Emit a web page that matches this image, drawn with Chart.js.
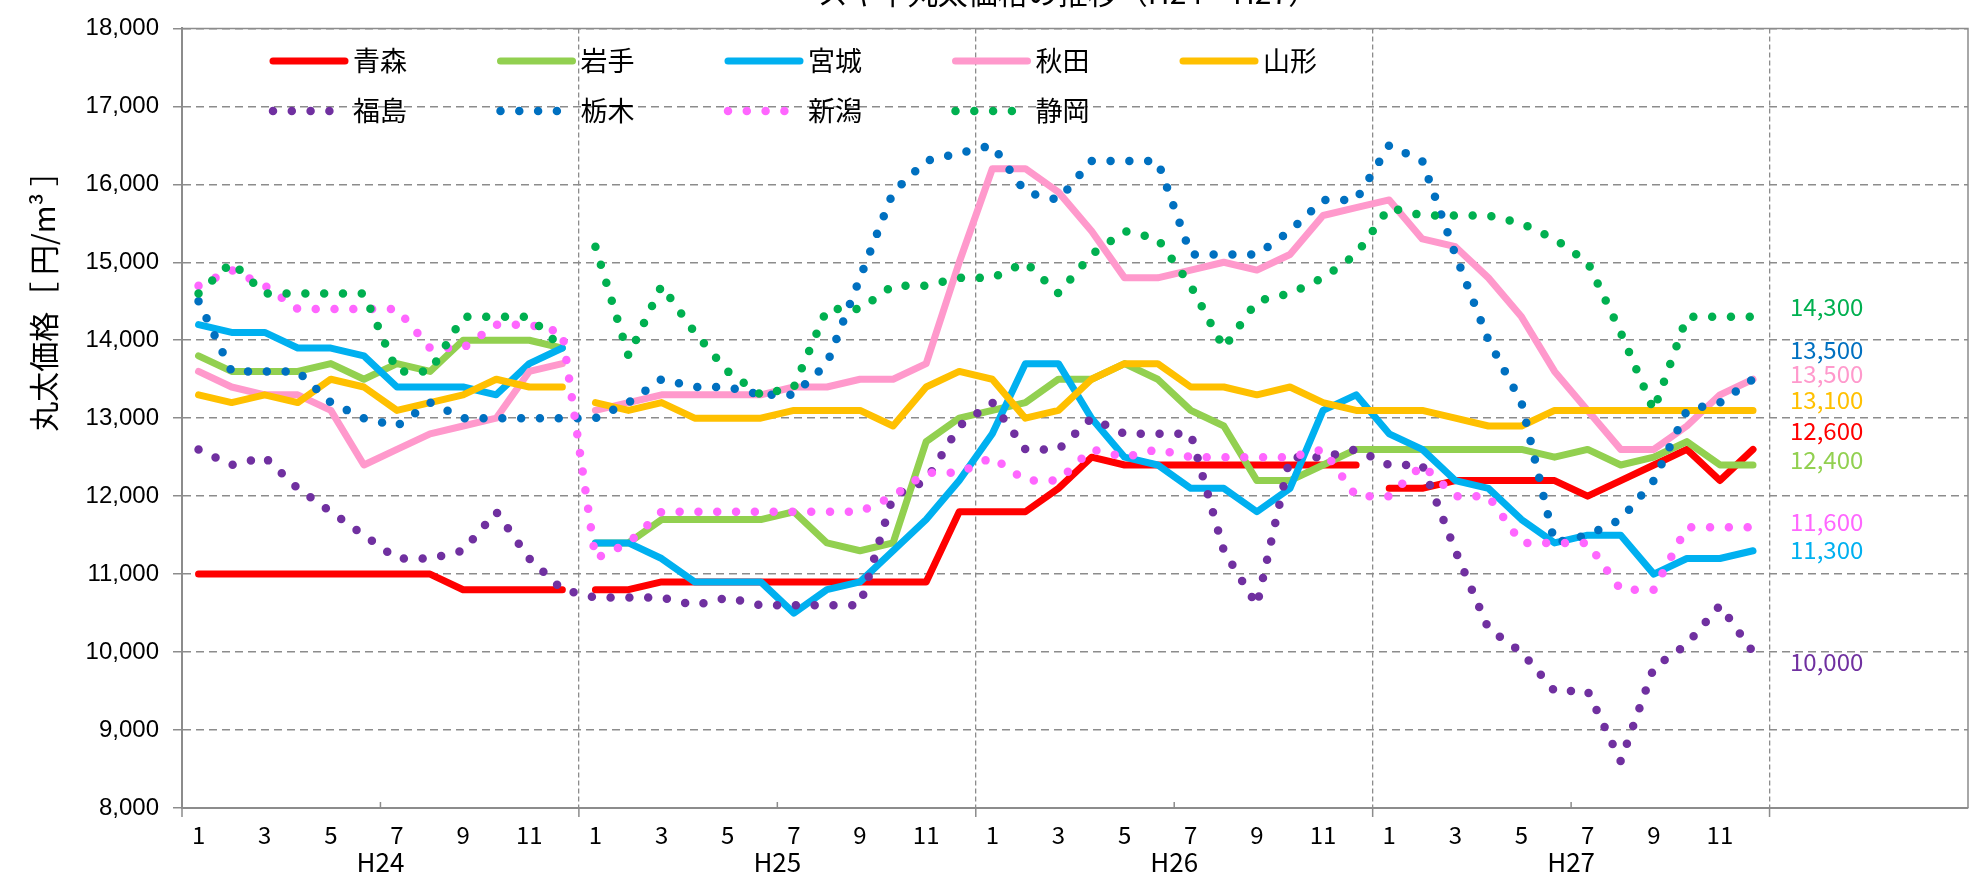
<!DOCTYPE html>
<html>
<head>
<meta charset="utf-8">
<script src="https://cdn.jsdelivr.net/npm/chart.js@4.4.1/dist/chart.umd.min.js"></script>
<style>
  html, body { margin: 0; padding: 0; background: #fff; }
</style>
</head>
<body>
<canvas id="chart" width="1977" height="879"></canvas>
<script>
const chartTitle = 'スギ中丸太価格の推移（H24～H27）';
const yTitle = '丸太価格［ 円/m³ ］';

const years = ['H24', 'H25', 'H26', 'H27'];
const months = [1, 2, 3, 4, 5, 6, 7, 8, 9, 10, 11, 12];
const spareSlots = 6;   // empty months on the right, where the end values sit

const names = ['青森', '岩手', '宮城', '秋田', '山形', '福島', '栃木', '新潟', '静岡'];

// yen per m3, H24-1 .. H27-12
const aomori = [
  11000, 11000, 11000, 11000, 11000, 11000, 11000, 11000, 10800, 10800, 10800, 10800,
  10800, 10800, 10900, 10900, 10900, 10900, 10900, 10900, 10900, 10900, 10900, 11800,
  11800, 11800, 12100, 12500, 12400, 12400, 12400, 12400, 12400, 12400, 12400, 12400,
  12100, 12100, 12200, 12200, 12200, 12200, 12000, 12200, 12400, 12600, 12200, 12600];
const iwate = [
  13800, 13600, 13600, 13600, 13700, 13500, 13700, 13600, 14000, 14000, 14000, 13900,
  11400, 11400, 11700, 11700, 11700, 11700, 11800, 11400, 11300, 11400, 12700, 13000,
  13100, 13200, 13500, 13500, 13700, 13500, 13100, 12900, 12200, 12200, 12400, 12600,
  12600, 12600, 12600, 12600, 12600, 12500, 12600, 12400, 12500, 12700, 12400, 12400];
const miyagi = [
  14200, 14100, 14100, 13900, 13900, 13800, 13400, 13400, 13400, 13300, 13700, 13900,
  11400, 11400, 11200, 10900, 10900, 10900, 10500, 10800, 10900, 11300, 11700, 12200,
  12800, 13700, 13700, 13000, 12500, 12400, 12100, 12100, 11800, 12100, 13100, 13300,
  12800, 12600, 12200, 12100, 11700, 11400, 11500, 11500, 11000, 11200, 11200, 11300];
const akita = [
  13600, 13400, 13300, 13300, 13100, 12400, 12600, 12800, 12900, 13000, 13600, 13700,
  13100, 13200, 13300, 13300, 13300, 13300, 13400, 13400, 13500, 13500, 13700, 15000,
  16200, 16200, 15900, 15400, 14800, 14800, 14900, 15000, 14900, 15100, 15600, 15700,
  15800, 15300, 15200, 14800, 14300, 13600, 13100, 12600, 12600, 12900, 13300, 13500];
const yamagata = [
  13300, 13200, 13300, 13200, 13500, 13400, 13100, 13200, 13300, 13500, 13400, 13400,
  13200, 13100, 13200, 13000, 13000, 13000, 13100, 13100, 13100, 12900, 13400, 13600,
  13500, 13000, 13100, 13500, 13700, 13700, 13400, 13400, 13300, 13400, 13200, 13100,
  13100, 13100, 13000, 12900, 12900, 13100, 13100, 13100, 13100, 13100, 13100, 13100];
const fukushima = [
  12600, 12400, 12500, 12100, 11800, 11500, 11200, 11200, 11300, 11800, 11200, 10800,
  10700, 10700, 10700, 10600, 10700, 10600, 10600, 10600, 10600, 12000, 12200, 12900,
  13200, 12600, 12600, 13000, 12800, 12800, 12800, 11300, 10600, 12500, 12500, 12600,
  12400, 12400, 11300, 10300, 10000, 9500, 9500, 8600, 9800, 10100, 10600, 10000];
const tochigi = [
  14500, 13600, 13600, 13600, 13200, 13000, 12900, 13200, 13000, 13000, 13000, 13000,
  13000, 13200, 13500, 13400, 13400, 13300, 13300, 13700, 14800, 15900, 16300, 16400,
  16500, 15900, 15800, 16300, 16300, 16300, 15100, 15100, 15100, 15400, 15800, 15800,
  16500, 16300, 15100, 14000, 13200, 11400, 11500, 11700, 12200, 13100, 13200, 13500];
const niigata = [
  14700, 14900, 14700, 14400, 14400, 14400, 14400, 13900, 13900, 14200, 14200, 14100,
  11200, 11400, 11800, 11800, 11800, 11800, 11800, 11800, 11800, 12000, 12300, 12300,
  12500, 12200, 12200, 12600, 12500, 12600, 12500, 12500, 12500, 12500, 12600, 12000,
  12000, 12400, 12000, 12000, 11400, 11400, 11400, 10800, 10800, 11600, 11600, 11600];
const shizuoka = [
  14600, 15000, 14600, 14600, 14600, 14600, 13600, 13600, 14300, 14300, 14300, 13900,
  15200, 13800, 14700, 14100, 13600, 13300, 13400, 14400, 14400, 14700, 14700, 14800,
  14800, 15000, 14600, 15100, 15400, 15300, 14700, 13900, 14500, 14600, 14800, 15100,
  15700, 15600, 15600, 15600, 15500, 15300, 15000, 14100, 13100, 14300, 14300, 14300];

const values = [aomori, iwate, miyagi, akita, yamagata, fukushima, tochigi, niigata, shizuoka];

const colors = ['#FF0000', '#92D050', '#00B0F0', '#FF99CC', '#FFC000', '#7030A0', '#0070C0', '#FF66FF', '#00B050'];
const dotted = [false, false, false, false, false, true, true, true, true];
// the line is not drawn between these points and the next one
const gapsAfter = [[11, 35], [11], [11], [11], [11], [], [], [], [11]];
// end labels are pushed up/down a little so they don't overlap
const labelNudge = [-19, -5, -1, -5, -11, 10, -29, -5, -10];

const labels = years.flatMap(y => months.map(m => y + '-' + m)).concat(Array(spareSlots).fill(''));

const JP = '"Noto Sans CJK JP", "Noto Sans", sans-serif';
const GRID = '#8c8c8c';
const DOT = [0, 18.8];

const datasets = names.map((name, i) => ({
  label: name,
  data: values[i],
  borderColor: colors[i],
  backgroundColor: colors[i],
  borderWidth: dotted[i] ? 8.5 : 7,
  borderDash: dotted[i] ? DOT : [],
  borderCapStyle: 'round',
  borderJoinStyle: 'round',
  pointRadius: 0,
  pointHoverRadius: 0,
  tension: 0,
  order: names.length - i,
  segment: {
    borderColor: c => gapsAfter[i].includes(c.p0DataIndex) ? 'rgba(0,0,0,0)' : undefined
  }
}));

const decor = {
  id: 'decor',
  beforeDatasetsDraw(chart) {
    const {ctx, chartArea: a, scales: {x}} = chart;
    const w = (a.right - a.left) / labels.length;
    ctx.save();
    ctx.strokeStyle = GRID;
    ctx.lineWidth = 1.5;
    ctx.beginPath();
    ctx.moveTo(a.left, a.top);
    ctx.lineTo(a.right, a.top);
    ctx.lineTo(a.right, a.bottom);
    ctx.stroke();

    ctx.beginPath();
    for (let k = 0; k <= years.length; k++) {
      const xs = x.getPixelForValue(k * 12) - w / 2;
      ctx.moveTo(xs, a.bottom);
      ctx.lineTo(xs, a.bottom + 9);
    }
    for (let k = 0; k < years.length; k++) {
      const xm = x.getPixelForValue(k * 12 + 5) + w / 2;
      ctx.moveTo(xm, a.bottom);
      ctx.lineTo(xm, a.bottom - 6);
    }
    ctx.stroke();
    ctx.restore();
  },
  afterDraw(chart) {
    const {ctx, chartArea: a, scales: {x, y}} = chart;
    const w = (a.right - a.left) / labels.length;
    ctx.save();

    // year labels under the months
    ctx.fillStyle = '#000';
    ctx.font = '26px ' + JP;
    ctx.textAlign = 'center';
    ctx.textBaseline = 'middle';
    years.forEach((yr, k) => {
      ctx.fillText(yr, x.getPixelForValue(k * 12 + 5) + w / 2, 862);
    });

    // y axis title
    ctx.save();
    ctx.translate(44, 294);
    ctx.rotate(-Math.PI / 2);
    ctx.font = '30px ' + JP;
    ctx.fillText(yTitle, 0, 0);
    ctx.restore();

    // chart title, mostly cut off by the top edge
    ctx.font = '30px ' + JP;
    ctx.textBaseline = 'ideographic';
    ctx.fillText(chartTitle, 1068, 8);

    // legend
    ctx.textAlign = 'left';
    ctx.textBaseline = 'middle';
    ctx.font = '27px ' + JP;
    names.forEach((name, i) => {
      const col = i < 5 ? i : i - 5;
      const lx = 273 + col * 227.5;
      const ly = i < 5 ? 61 : 111;
      ctx.save();
      ctx.strokeStyle = colors[i];
      ctx.lineWidth = dotted[i] ? 8.5 : 7;
      ctx.lineCap = 'round';
      ctx.setLineDash(dotted[i] ? DOT : []);
      ctx.beginPath();
      ctx.moveTo(lx, ly);
      ctx.lineTo(lx + 72, ly);
      ctx.stroke();
      ctx.restore();
      ctx.fillStyle = '#000';
      ctx.fillText(name, lx + 80, ly);
    });

    // last values on the right
    ctx.font = '24px ' + JP;
    values.forEach((vals, i) => {
      const last = vals[vals.length - 1];
      ctx.fillStyle = colors[i];
      ctx.fillText(last.toLocaleString('en-US'), 1790, y.getPixelForValue(last) + labelNudge[i]);
    });
    ctx.restore();
  }
};

new Chart(document.getElementById('chart'), {
  type: 'line',
  data: { labels: labels, datasets: datasets },
  options: {
    responsive: false,
    animation: false,
    devicePixelRatio: 1,
    layout: { padding: { left: 0, right: 9, top: 18, bottom: 0 } },
    plugins: {
      legend: { display: false },
      title: { display: false },
      tooltip: { enabled: false }
    },
    scales: {
      x: {
        offset: true,
        afterFit: s => { s.height = 71; },
        grid: {
          offset: true,
          drawTicks: false,
          lineWidth: 1.3,
          color: c => (c.index % 12 === 0 && c.index > 0 && c.index < labels.length) ? GRID : 'rgba(0,0,0,0)'
        },
        border: { display: true, color: GRID, width: 2, dash: [5, 3] },
        ticks: {
          autoSkip: false,
          maxRotation: 0,
          minRotation: 0,
          padding: 12,
          color: '#000',
          font: { family: JP, size: 24 },
          callback: (v, i) => {
            if (i >= years.length * 12) return '';
            const m = months[i % 12];
            return m % 2 === 1 ? String(m) : '';
          }
        }
      },
      y: {
        min: 8000,
        max: 18000,
        afterFit: s => { s.width = 182; },
        grid: {
          color: GRID,
          lineWidth: 1.5,
          drawTicks: true,
          tickLength: 9,
          tickBorderDash: [],
          tickColor: GRID
        },
        border: { display: true, color: GRID, width: 2, dash: [8, 5] },
        ticks: {
          stepSize: 1000,
          padding: 14,
          color: '#000',
          font: { family: '"Liberation Sans", Arial, sans-serif', size: 24 },
          callback: v => v.toLocaleString('en-US')
        }
      }
    }
  },
  plugins: [decor]
});
</script>
</body>
</html>
